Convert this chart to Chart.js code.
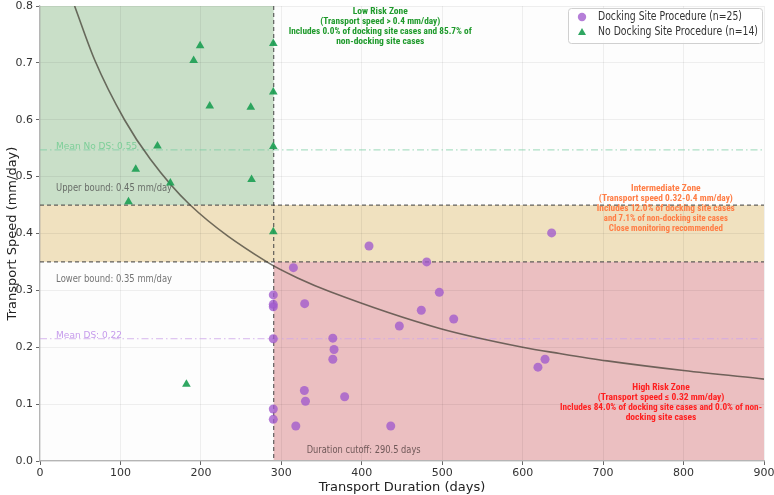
<!DOCTYPE html>
<html>
<head>
<meta charset="utf-8">
<script src="https://cdn.jsdelivr.net/npm/chart.js@4/dist/chart.umd.min.js"></script>
<style>
  html, body { margin: 0; padding: 0; background: #ffffff; }
  #wrap { width: 774px; height: 495px; }
</style>
</head>
<body>
<div id="wrap"><canvas id="c" width="774" height="495"></canvas></div>
<script>
// ---- data ----
const dsDuration = [290, 290, 290, 290, 290, 290, 315, 329, 364, 365.5, 364, 328.6, 330, 378.7, 318, 436, 409, 480.7, 496.4, 474, 514.3, 446.7, 627.8, 619, 636];
const dsSpeed    = [0.292, 0.2755, 0.271, 0.215, 0.0914, 0.0733, 0.340, 0.2766, 0.216, 0.196, 0.179, 0.124, 0.105, 0.113, 0.0615, 0.0615, 0.378, 0.350, 0.2966, 0.265, 0.2497, 0.2374, 0.179, 0.165, 0.401];

const ndsDuration = [199, 191, 290, 290, 211, 262, 146, 290, 119, 162, 263, 110, 290, 182];
const ndsSpeed    = [0.730, 0.704, 0.734, 0.649, 0.624, 0.622, 0.554, 0.553, 0.513, 0.489, 0.495, 0.456, 0.403, 0.135];

const curveDuration = [43, 68, 105, 137, 186, 282, 323, 360, 497, 600, 646, 705, 800, 900];
const curveSpeed    = [0.800, 0.705, 0.600, 0.531, 0.451, 0.350, 0.320, 0.298, 0.233, 0.200, 0.189, 0.176, 0.159, 0.144];

const durationCutoff = 290.5;
const upperBound = 0.45;
const lowerBound = 0.35;
const meanNoDS = 0.547;
const meanDS = 0.215;

const legendLabels = ['Docking Site Procedure (n=25)', 'No Docking Site Procedure (n=14)'];
const xTitle = 'Transport Duration (days)';
const yTitle = 'Transport Speed (mm/day)';

const lowRiskText = ['Low Risk Zone', '(Transport speed > 0.4 mm/day)', 'Includes 0.0% of docking site cases and 85.7% of', 'non-docking site cases'];
const midRiskText = ['Intermediate Zone', '(Transport speed 0.32-0.4 mm/day)', 'Includes 12.0% of docking site cases', 'and 7.1% of non-docking site cases', 'Close monitoring recommended'];
const highRiskText = ['High Risk Zone', '(Transport speed \u2264 0.32 mm/day)', 'Includes 84.0% of docking site cases and 0.0% of non-', 'docking site cases'];

// ---- styles ----
const DS_COLOR = 'rgba(160, 90, 205, 0.78)';
const NDS_COLOR = 'rgba(30, 160, 85, 0.92)';
const FONT = '"DejaVu Sans", sans-serif';
const ZFONT = '"Liberation Sans Narrow", "Roboto Condensed", "Liberation Sans", sans-serif';

const zonesPlugin = {
  id: 'zones',
  beforeDraw(chart) {
    const { ctx, scales: { x, y } } = chart;
    const X = v => x.getPixelForValue(v), Y = v => y.getPixelForValue(v);
    ctx.save();
    ctx.fillStyle = '#fdfdfd';
    ctx.fillRect(X(0), Y(0.8), X(900) - X(0), Y(0) - Y(0.8));
    ctx.fillStyle = '#c9dfc8';
    ctx.fillRect(X(0), Y(0.8), X(durationCutoff) - X(0), Y(upperBound) - Y(0.8));
    ctx.fillStyle = '#f0e1bf';
    ctx.fillRect(X(0), Y(upperBound), X(900) - X(0), Y(lowerBound) - Y(upperBound));
    ctx.fillStyle = '#ebbfc1';
    ctx.fillRect(X(durationCutoff), Y(lowerBound), X(900) - X(durationCutoff), Y(0) - Y(lowerBound));
    ctx.restore();
  },
  beforeDatasetsDraw(chart) {
    const { ctx, scales: { x, y } } = chart;
    const X = v => x.getPixelForValue(v), Y = v => y.getPixelForValue(v);
    ctx.save();
    ctx.lineWidth = 1;
    ctx.setLineDash([7, 3, 1.5, 3]);
    ctx.strokeStyle = 'rgba(120, 205, 160, 0.75)';
    ctx.beginPath(); ctx.moveTo(X(0), Y(meanNoDS)); ctx.lineTo(X(900), Y(meanNoDS)); ctx.stroke();
    ctx.strokeStyle = 'rgba(205, 165, 235, 0.8)';
    ctx.beginPath(); ctx.moveTo(X(0), Y(meanDS)); ctx.lineTo(X(900), Y(meanDS)); ctx.stroke();
    ctx.setLineDash([4, 3]);
    ctx.lineWidth = 1.2;
    ctx.strokeStyle = 'rgba(70, 70, 70, 0.85)';
    ctx.beginPath(); ctx.moveTo(X(0), Y(upperBound)); ctx.lineTo(X(900), Y(upperBound)); ctx.stroke();
    ctx.beginPath(); ctx.moveTo(X(0), Y(lowerBound)); ctx.lineTo(X(900), Y(lowerBound)); ctx.stroke();
    ctx.beginPath(); ctx.moveTo(X(durationCutoff), Y(0.8)); ctx.lineTo(X(durationCutoff), Y(0)); ctx.stroke();
    ctx.setLineDash([]);

    ctx.textBaseline = 'middle';
    ctx.textAlign = 'left';
    ctx.font = '9px ' + FONT;
    ctx.fillStyle = 'rgba(120, 205, 150, 0.95)';
    ctx.fillText('Mean No DS: 0.55', X(20), Y(meanNoDS) - 3);
    ctx.fillStyle = 'rgba(195, 150, 235, 0.95)';
    ctx.fillText('Mean DS: 0.22', X(20), Y(meanDS) - 3);
    ctx.font = '10px ' + FONT;
    ctx.fillStyle = 'rgba(80, 80, 80, 0.8)';
    ctx.fillText('Upper bound: 0.45 mm/day', X(20), Y(upperBound) - 17, 116);
    ctx.fillText('Lower bound: 0.35 mm/day', X(20), Y(lowerBound) + 17, 116);
    ctx.fillStyle = 'rgba(90, 70, 70, 0.85)';
    ctx.fillText('Duration cutoff: 290.5 days', X(durationCutoff) + 33, Y(0) - 11, 114);
    ctx.restore();
  },
  afterDatasetsDraw(chart) {
    const { ctx, scales: { x, y } } = chart;
    const X = v => x.getPixelForValue(v), Y = v => y.getPixelForValue(v);
    ctx.save();
    ctx.textAlign = 'center';
    ctx.textBaseline = 'middle';
    ctx.font = 'bold 9.5px ' + ZFONT;
    const block = (lines, cx, y0, color, widths) => {
      ctx.fillStyle = color;
      lines.forEach((t, i) => ctx.fillText(t, cx, y0 + i * 10, widths[i]));
    };
    block(lowRiskText, X(423), Y(0.8) + 6, '#1f9a2c', [56, 120, 183, 110]);
    block(midRiskText, X(778), Y(upperBound) - 16, '#ff7d45', [80, 134, 138, 124, 114]);
    block(highRiskText, X(772), Y(0.129), '#ff1f1f', [58, 128, 202, 74]);

    // legend
    const lx = 568, ly = 8, lw = 194, lh = 35;
    ctx.fillStyle = 'rgba(255,255,255,0.85)';
    ctx.strokeStyle = '#d0d0d0';
    ctx.lineWidth = 1;
    ctx.beginPath();
    ctx.roundRect(lx + 0.5, ly + 0.5, lw, lh, 3);
    ctx.fill(); ctx.stroke();
    ctx.fillStyle = DS_COLOR;
    ctx.beginPath(); ctx.arc(582, 17, 4.2, 0, Math.PI * 2); ctx.fill();
    ctx.fillStyle = NDS_COLOR;
    ctx.beginPath(); ctx.moveTo(582, 28); ctx.lineTo(586, 35); ctx.lineTo(578, 35); ctx.closePath(); ctx.fill();
    ctx.fillStyle = '#333';
    ctx.font = '11.5px ' + FONT;
    ctx.textAlign = 'left';
    ctx.fillText(legendLabels[0], 598, 17, 144);
    ctx.fillText(legendLabels[1], 598, 32, 160);
    ctx.restore();
  }
};

new Chart(document.getElementById('c'), {
  type: 'scatter',
  data: {
    datasets: [
      {
        label: legendLabels[0],
        data: dsDuration.map((d, i) => ({ x: d, y: dsSpeed[i] })),
        pointStyle: 'circle',
        pointRadius: 4.5,
        backgroundColor: DS_COLOR,
        borderWidth: 0,
        order: 1
      },
      {
        label: legendLabels[1],
        data: ndsDuration.map((d, i) => ({ x: d, y: ndsSpeed[i] })),
        pointStyle: 'triangle',
        pointRadius: 5,
        backgroundColor: NDS_COLOR,
        borderWidth: 0,
        order: 1
      },
      {
        label: 'trend',
        type: 'line',
        data: curveDuration.map((d, i) => ({ x: d, y: curveSpeed[i] })),
        showLine: true,
        pointRadius: 0,
        borderColor: 'rgba(70, 65, 55, 0.75)',
        borderWidth: 1.6,
        fill: false,
        cubicInterpolationMode: 'monotone',
        order: 2
      }
    ]
  },
  options: {
    responsive: false,
    animation: false,
    events: [],
    layout: { padding: { top: 6, right: 10, left: 0, bottom: 0 } },
    plugins: { legend: { display: false }, tooltip: { enabled: false } },
    scales: {
      x: {
        type: 'linear', min: 0, max: 900,
        ticks: { stepSize: 100, color: '#333', font: { family: FONT, size: 11 }, padding: 2 },
        grid: { color: 'rgba(0,0,0,0.06)', tickLength: 4, tickColor: '#666' },
        border: { color: '#b5b5b5', width: 1.2 },
        title: { display: true, text: xTitle, color: '#222', font: { family: FONT, size: 13 }, padding: { top: 0, bottom: 0 } },
        afterFit(s) { s.height = 34; s.paddingLeft = 0; s.paddingRight = 0; }
      },
      y: {
        min: 0, max: 0.8,
        ticks: { stepSize: 0.1, color: '#333', font: { family: FONT, size: 11 }, padding: 3, callback: v => Number(v).toFixed(1) },
        grid: { color: 'rgba(0,0,0,0.06)', tickLength: 4, tickColor: '#666' },
        border: { color: '#b5b5b5', width: 1.2 },
        title: { display: true, text: yTitle, color: '#222', font: { family: FONT, size: 13 }, padding: { top: 5, bottom: 0 } },
        afterFit(s) { s.width = 40; s.paddingTop = 0; s.paddingBottom = 0; }
      }
    }
  },
  plugins: [zonesPlugin]
});
</script>
</body>
</html>
